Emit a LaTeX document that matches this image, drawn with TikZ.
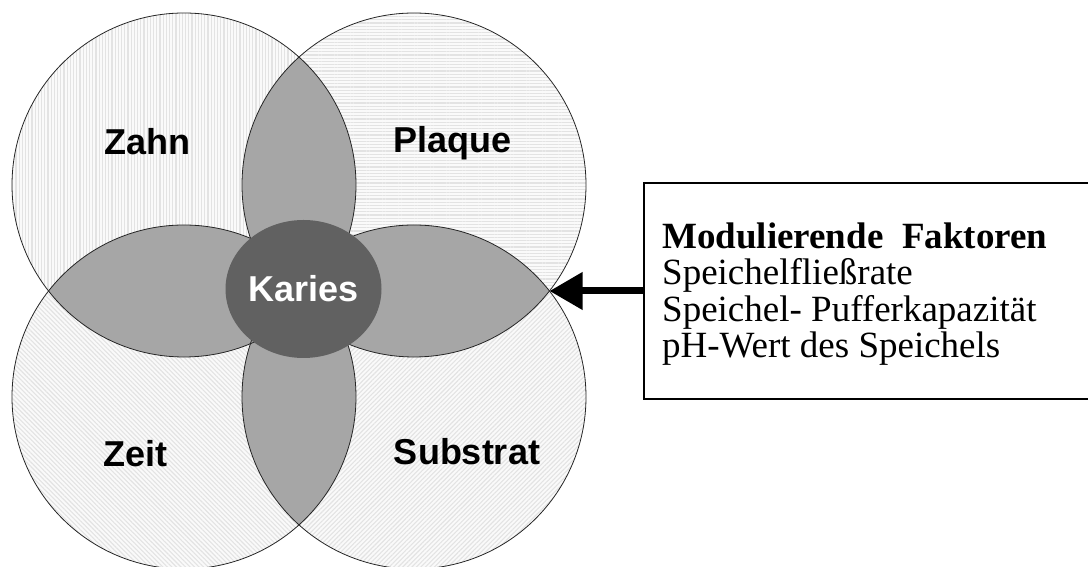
\documentclass[tikz,border=0pt]{standalone}
\usepackage{fontspec}
\setmainfont{Liberation Serif}
\newfontfamily\labelfont{Liberation Sans}
\usetikzlibrary{patterns.meta,shapes.geometric,arrows.meta}

\begin{document}
\begin{tikzpicture}[x=1pt,y=1pt,
    ring/.style={draw=black!85,line width=0.8pt},
    lens/.style={fill=black!35},
    hatch/.style={fill=black!2,postaction={pattern color=black!11,
                  pattern={Lines[angle=#1,distance=3.2pt,line width=1.1pt]}}},
    factor/.style={font=\labelfont\bfseries\fontsize{36}{36}\selectfont,anchor=base},
    stream/.style={-{Triangle[length=33pt,width=36pt]},line width=7pt}]
    \useasboundingbox (0,0) rectangle (1088,567);
    \def\r{172pt}

    %circles
    \coordinate (cZahn) at (184,382);
    \coordinate (cPlaque) at (414,382);
    \coordinate (cZeit) at (184,170);
    \coordinate (cSubstrat) at (414,170);
    \fill[hatch=90] (cZahn) circle (\r);
    \fill[hatch=0] (cPlaque) circle (\r);
    \fill[hatch=-45] (cZeit) circle (\r);
    \fill[hatch=45] (cSubstrat) circle (\r);

    %overlaps
    \begin{scope}
    \clip (cZahn) circle (\r);
    \fill[lens] (cPlaque) circle (\r);
    \fill[lens] (cZeit) circle (\r);
    \end{scope}
    \begin{scope}
    \clip (cSubstrat) circle (\r);
    \fill[lens] (cPlaque) circle (\r);
    \fill[lens] (cZeit) circle (\r);
    \end{scope}
    \foreach \c in {cZahn,cPlaque,cZeit,cSubstrat}
      \draw[ring] (\c) circle (\r);

    \node[factor] (zahn) at (147,412) {Zahn};
    \node[factor] (plaque) at (452.5,414) {Plaque};
    \node[factor] (zeit) at (135.5,100) {Zeit};
    \node[factor] (substrat) at (467,102) {Substrat};

    %Karies
    \node[ellipse,fill=black!62,text=white,minimum width=156pt,minimum height=138pt,
          inner sep=0pt,font=\labelfont\bfseries\fontsize{36}{36}\selectfont]
          (karies) at (303.5,278) {Karies};

    %modulating factors
    \node[draw,line width=2pt,anchor=west,minimum width=452pt,minimum height=216pt,
          inner sep=0pt] (fbox) at (643,276) {};
    \node[anchor=base west,align=left,inner sep=0pt,
          font=\fontsize{37}{36.5}\selectfont] (ftext) at (662,209)
          {\textbf{Modulierende\ \ Faktoren}\\Speichelfließrate\\
           Speichel- Pufferkapazität\\pH-Wert des Speichels};
    \coordinate (rtip) at (549.5,276);
    \draw[stream] (fbox.west) -- (rtip);
\end{tikzpicture}
\end{document}
